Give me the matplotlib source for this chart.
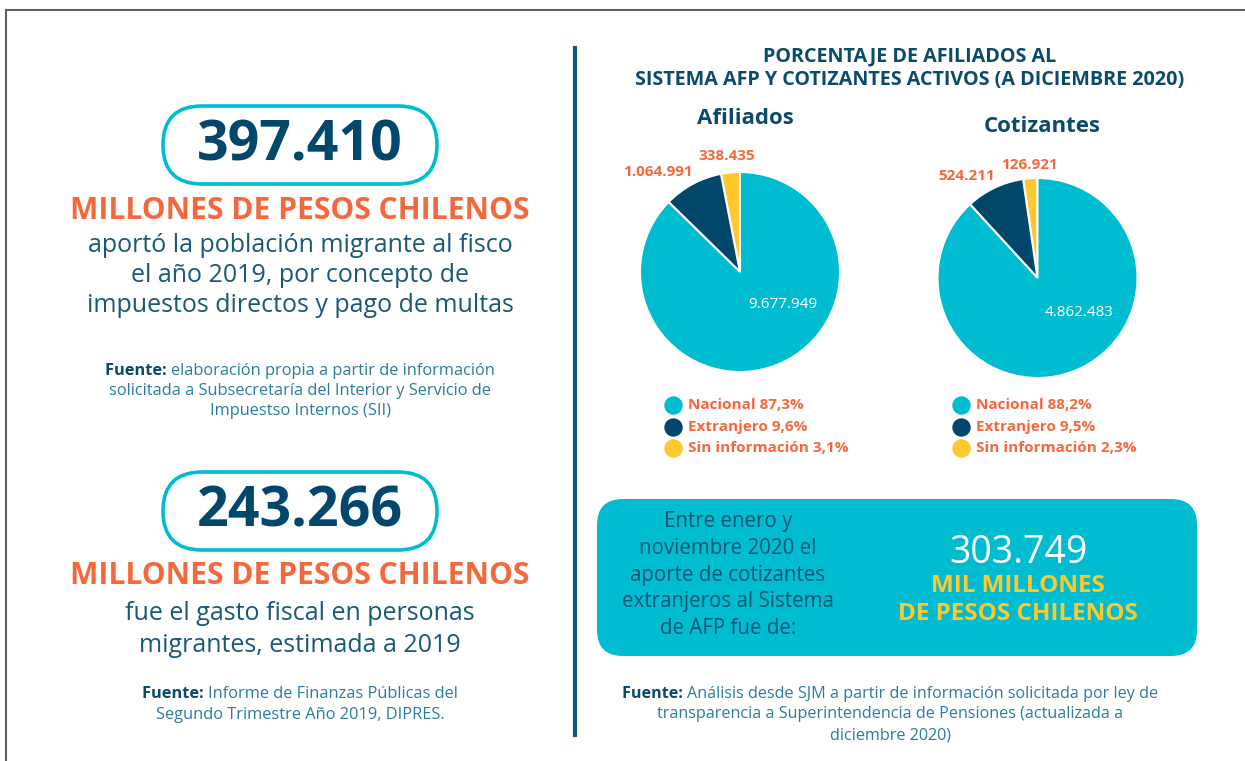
import matplotlib.pyplot as plt
from matplotlib.patches import FancyBboxPatch

plt.rcParams['font.family'] = ['Open Sans', 'DejaVu Sans']

W, H = 1245, 761

# data
cifra_aporte = "397.410"
cifra_gasto = "243.266"
cifra_afp = "303.749"

categorias = ["Sin información", "Extranjero", "Nacional"]
afiliados = [338435, 1064991, 9677949]
cotizantes = [126921, 524211, 4862483]
pct_afiliados = ["3,1%", "9,6%", "87,3%"]
pct_cotizantes = ["2,3%", "9,5%", "88,2%"]
etiquetas_afiliados = ["338.435", "1.064.991", "9.677.949"]
etiquetas_cotizantes = ["126.921", "524.211", "4.862.483"]

TEAL = "#00BCD0"
NAVY = "#00476B"
YELLOW = "#FFC82C"
ORANGE = "#F4683C"
TXT = "#1A5878"
FUENTE = "#2A7C9E"
TITLE = "#0A4B6A"

fig = plt.figure(figsize=(W / 100, H / 100), dpi=100)
ax = fig.add_axes([0, 0, 1, 1])
ax.set_xlim(0, W)
ax.set_ylim(H, 0)
ax.axis('off')
ax.set_zorder(3)
ax.patch.set_alpha(0)

renderer = fig.canvas.get_renderer()

# frame lines (cropped screenshot border)
ax.plot([6, W], [10, 10], color="#5a5f66", lw=1.5)
ax.plot([6, 6], [10, H], color="#5a5f66", lw=1.5)

# divider
ax.plot([575, 575], [48, 735], color="#0B5B80", lw=3)


def fuente(x, y, lineas, size=11.8, dy=20):
    # first line starts with a bold "Fuente:"
    t1 = ax.text(0, 0, "Fuente: ", fontsize=size, fontweight='bold', color=TITLE,
                 va='center', ha='left')
    t2 = ax.text(0, 0, lineas[0], fontsize=size, color=FUENTE,
                 va='center', ha='left')
    w1 = t1.get_window_extent(renderer).width
    w2 = t2.get_window_extent(renderer).width
    x0 = x - (w1 + w2) / 2
    t1.set_position((x0, y))
    t2.set_position((x0 + w1, y))
    for i, linea in enumerate(lineas[1:], start=1):
        ax.text(x, y + i * dy, linea, ha='center', va='center',
                fontsize=size, color=FUENTE)


def caja(y0, y1, texto):
    r = (y1 - y0) / 2
    box = FancyBboxPatch((163 + r, y0 + r), 274 - 2 * r, 0,
                         boxstyle=f"round,pad={r},rounding_size={r}",
                         fc="white", ec=TEAL, lw=2.6)
    ax.add_patch(box)
    ax.text(300, (y0 + y1) / 2 + 1, texto, ha='center', va='center',
            fontsize=40, fontweight='bold', color=NAVY)


# left block 1
caja(106, 184, cifra_aporte)
ax.text(300, 211, "MILLONES DE PESOS CHILENOS", ha='center', va='center',
        fontsize=21.6, fontweight='bold', color=ORANGE)
for i, l in enumerate(["aportó la población migrante al fisco",
                       "el año 2019, por concepto de",
                       "impuestos directos y pago de multas"]):
    ax.text(300, 246 + i * 30, l, ha='center', va='center',
            fontsize=18, color=TXT)
fuente(300, 371, ["elaboración propia a partir de información",
                  "solicitada a Subsecretaría del Interior y Servicio de",
                  "Impuestso Internos (SII)"])

# left block 2
caja(472, 550, cifra_gasto)
ax.text(300, 576, "MILLONES DE PESOS CHILENOS", ha='center', va='center',
        fontsize=21.6, fontweight='bold', color=ORANGE)
for i, l in enumerate(["fue el gasto fiscal en personas",
                       "migrantes, estimada a 2019"]):
    ax.text(300, 614 + i * 31, l, ha='center', va='center',
            fontsize=18, color=TXT)
fuente(300, 694, ["Informe de Finanzas Públicas del",
                  "Segundo Trimestre Año 2019, DIPRES."], dy=21)

# right title
ax.text(910, 56, "PORCENTAJE DE AFILIADOS AL", ha='center', va='center',
        fontsize=14.2, fontweight='bold', color=TITLE)
ax.text(910, 80, "SISTEMA AFP Y COTIZANTES ACTIVOS (A DICIEMBRE 2020)",
        ha='center', va='center', fontsize=14.2, fontweight='bold', color=TITLE)
ax.text(745, 118, "Afiliados", ha='center', va='center',
        fontsize=16, fontweight='bold', color=TITLE)
ax.text(1042, 127, "Cotizantes", ha='center', va='center',
        fontsize=16, fontweight='bold', color=TITLE)

colores = [YELLOW, NAVY, TEAL]


def pie(cx, cy, r, valores):
    pax = fig.add_axes([(cx - r) / W, 1 - (cy + r) / H, 2 * r / W, 2 * r / H])
    pax.set_zorder(1)
    pax.pie(valores, colors=colores, startangle=90, counterclock=True,
            wedgeprops=dict(edgecolor='white', linewidth=1.5), radius=1)
    pax.set_xlim(-1.0, 1.0)
    pax.set_ylim(-1.0, 1.0)
    pax.axis('off')


pie(740, 272, 100, afiliados)
pie(1037.5, 278, 100, cotizantes)

# value labels
ax.text(783, 305, etiquetas_afiliados[2], ha='center', va='center',
        fontsize=11, color='white')
ax.text(658, 172, etiquetas_afiliados[1], ha='center', va='center',
        fontsize=11, fontweight='bold', color=ORANGE)
ax.text(727, 156, etiquetas_afiliados[0], ha='center', va='center',
        fontsize=11, fontweight='bold', color=ORANGE)
ax.text(1079, 313, etiquetas_cotizantes[2], ha='center', va='center',
        fontsize=11, color='white')
ax.text(967, 176, etiquetas_cotizantes[1], ha='center', va='center',
        fontsize=11, fontweight='bold', color=ORANGE)
ax.text(1030, 165, etiquetas_cotizantes[0], ha='center', va='center',
        fontsize=11, fontweight='bold', color=ORANGE)

# legends
orden = [2, 1, 0]
for x0, pcts in [(673, pct_afiliados), (961, pct_cotizantes)]:
    for i, k in enumerate(orden):
        y = 405 + i * 21.5
        ax.scatter([x0], [y], s=150, color=colores[k], zorder=3)
        ax.text(x0 + 15, y, f"{categorias[k]} {pcts[k]}", ha='left', va='center',
                fontsize=11, fontweight='bold', color=ORANGE)

# teal box
tbox = FancyBboxPatch((597 + 26, 499 + 26), 600 - 52, 157 - 52,
                      boxstyle="round,pad=26,rounding_size=26",
                      fc=TEAL, ec='none')
ax.add_patch(tbox)
for i, l in enumerate(["Entre enero y", "noviembre 2020 el",
                       "aporte de cotizantes", "extranjeros al Sistema",
                       "de AFP fue de:"]):
    ax.text(728, 522 + i * 26.5, l, ha='center', va='center',
            fontsize=14.8, color="#0F5673")
ax.text(1018, 553, cifra_afp, ha='center', va='center',
        fontsize=27, color='white')
ax.text(1018, 586, "MIL MILLONES", ha='center', va='center',
        fontsize=17.5, fontweight='bold', color=YELLOW)
ax.text(1018, 614, "DE PESOS CHILENOS", ha='center', va='center',
        fontsize=17.5, fontweight='bold', color=YELLOW)

fuente(890, 694, ["Análisis desde SJM a partir de información solicitada por ley de",
                  "transparencia a Superintendencia de Pensiones (actualizada a",
                  "diciembre 2020)"], size=11.6, dy=20.5)

fig.savefig("out.png", dpi=100)
